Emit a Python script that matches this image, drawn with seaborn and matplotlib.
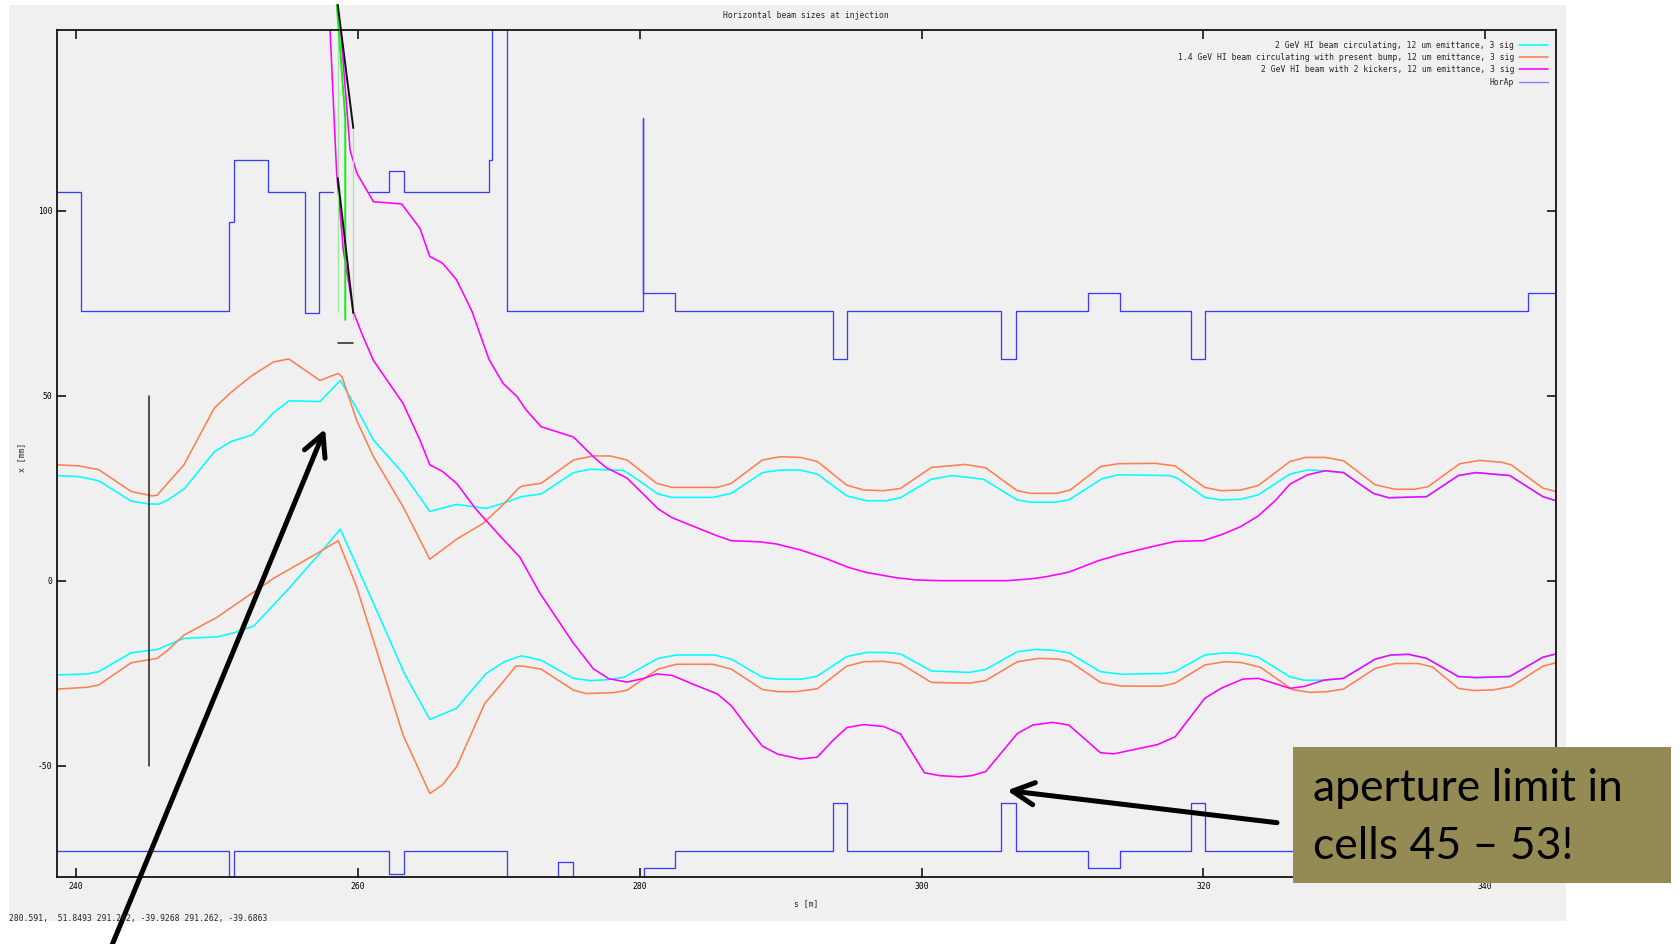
import matplotlib
matplotlib.use("Agg")
import matplotlib.pyplot as plt
from matplotlib.lines import Line2D
from matplotlib.patches import Rectangle
import pandas as pd
import seaborn as sns

TITLE = "Horizontal beam sizes at injection"
XLABEL = "s [m]"
YLABEL = "x [mm]"
SERIES = [
    "2 GeV HI beam circulating, 12 um emittance, 3 sig",
    "1.4 GeV HI beam circulating with present bump, 12 um emittance, 3 sig",
    "2 GeV HI beam with 2 kickers, 12 um emittance, 3 sig",
]
APERTURE = "HorAp"
COLORS = ["#00ffff", "#ff7f50", "#ff00ff"]
HORAP_COLOR = "#3c3cff"
BG = "#f0f0f0"
CURSOR_TEXT = "280.591,  51.8493 291.262, -39.9268 291.262, -39.6863"
NOTE_LINES = ["aperture limit in", "cells 45 \u2013 53!"]

X_TICKS = [240, 260, 280, 300, 320, 340]
Y_TICKS = [-50, 0, 50, 100]
S_RANGE = (238.67, 345.03)
X_RANGE = (-80.0, 148.8)

# beam envelopes (s [m], x [mm])
cyan_upper = [(238.67, 28.4), (240.2, 28.1), (241.6, 27.0), (243.9, 21.5), (245.2, 20.7), (245.9, 20.7),
              (246.5, 21.8), (247.7, 24.9), (249.8, 34.8), (251.0, 37.6), (252.5, 39.4), (254.0, 45.3),
              (255.1, 48.6), (257.3, 48.4), (258.75, 54.1), (259.9, 46.6), (261.1, 38.0), (263.2, 29.0),
              (265.1, 18.7), (267.0, 20.6), (269.1, 19.5), (270.3, 20.9), (271.6, 22.7), (273.0, 23.4),
              (275.3, 29.2), (276.5, 30.1), (278.8, 29.8), (279.2, 29.0), (281.3, 23.4), (282.3, 22.5),
              (285.2, 22.5), (286.5, 23.6), (288.7, 29.2), (290.0, 29.9), (291.4, 29.9), (292.6, 28.8),
              (294.7, 22.9), (296.1, 21.6), (297.5, 21.6), (298.5, 22.4), (300.7, 27.4), (302.15, 28.4),
              (304.4, 27.4), (306.8, 21.8), (307.8, 21.2), (309.45, 21.2), (310.45, 21.8), (312.8, 27.5),
              (313.95, 28.6), (317.6, 28.4), (318.15, 27.7), (320.1, 22.5), (321.25, 21.8), (322.65, 22.0),
              (323.9, 23.2), (326.15, 28.8), (327.4, 29.9), (328.55, 29.7), (329.95, 29.2), (332.05, 23.6),
              (333.15, 22.4), (335.85, 22.7), (338.1, 28.4), (339.35, 29.2), (341.75, 28.4), (344.1, 22.7),
              (345.03, 21.6)]
cyan_lower = [(238.67, -25.5), (240.8, -25.2), (241.6, -24.6), (243.9, -19.5), (245.75, -18.6), (247.65, -15.6),
              (250.0, -15.2), (251.2, -14.1), (252.6, -12.3), (255.1, -2.1), (257.3, 7.4), (258.75, 13.9),
              (261.1, -6.1), (263.3, -25.1), (265.1, -37.5), (267.0, -34.5), (269.1, -25.1), (270.4, -21.9),
              (271.6, -20.3), (273.0, -21.5), (275.3, -26.4), (276.5, -27.0), (277.6, -26.8), (278.9, -26.1),
              (281.3, -21.0), (282.6, -20.1), (285.3, -20.1), (286.5, -21.2), (288.7, -26.1), (289.7, -26.6),
              (291.5, -26.6), (292.6, -25.8), (294.7, -20.5), (296.1, -19.4), (297.5, -19.4), (298.5, -19.8),
              (300.7, -24.4), (303.4, -24.8), (304.55, -24.0), (306.8, -19.2), (308.05, -18.6), (309.3, -18.8),
              (310.45, -19.5), (312.7, -24.6), (314.2, -25.3), (317.15, -25.1), (318.0, -24.6), (320.1, -20.1),
              (321.5, -19.5), (322.65, -19.7), (323.9, -20.7), (326.15, -26.0), (327.15, -26.9), (328.4, -26.9),
              (329.95, -26.4), (332.2, -21.2), (333.3, -20.1), (334.55, -19.9), (335.85, -21.0), (338.1, -25.9),
              (339.35, -26.2), (341.75, -25.9), (344.1, -20.7), (345.03, -19.8)]
coral_upper = [(238.67, 31.3), (240.2, 31.0), (241.6, 30.0), (243.9, 24.1), (245.4, 22.9), (245.75, 23.1),
               (247.65, 31.3), (249.8, 46.6), (251.0, 50.9), (252.4, 55.2), (254.0, 59.1), (255.1, 59.9),
               (257.3, 54.1), (258.6, 56.0), (258.87, 55.1), (259.9, 43.4), (261.1, 33.5), (263.2, 20.0),
               (265.1, 5.8), (267.0, 11.2), (268.9, 15.5), (270.3, 20.5), (271.4, 25.0), (271.7, 25.6),
               (273.0, 26.3), (275.3, 32.6), (276.7, 33.7), (277.9, 33.7), (279.1, 32.6), (281.2, 26.3),
               (282.3, 25.2), (285.5, 25.2), (286.5, 26.3), (288.7, 32.6), (290.0, 33.5), (291.4, 33.3),
               (292.6, 32.2), (294.7, 25.8), (295.9, 24.5), (297.3, 24.3), (298.5, 24.9), (300.7, 30.6),
               (303.1, 31.4), (304.55, 30.5), (306.8, 24.3), (307.75, 23.6), (309.6, 23.6), (310.55, 24.5),
               (312.7, 30.8), (313.95, 31.6), (316.6, 31.7), (318.0, 31.0), (320.1, 25.2), (321.25, 24.3),
               (322.65, 24.5), (323.9, 25.7), (326.15, 32.2), (327.25, 33.3), (328.65, 33.3), (329.95, 32.4),
               (332.2, 25.9), (333.6, 24.7), (335.0, 24.7), (335.95, 25.4), (338.2, 31.6), (339.6, 32.5),
               (341.15, 32.0), (341.85, 31.3), (344.1, 25.0), (345.03, 24.1)]
coral_lower = [(238.67, -29.3), (240.8, -28.8), (241.6, -28.2), (243.9, -22.2), (245.75, -21.0), (246.5, -18.8),
               (247.65, -14.7), (250.0, -9.9), (251.45, -6.1), (254.0, 0.6), (257.3, 7.8), (258.6, 10.8),
               (259.9, -1.6), (263.2, -41.7), (265.1, -57.5), (266.0, -55.2), (267.0, -50.3), (269.0, -33.2),
               (270.4, -26.9), (271.2, -23.1), (271.7, -23.1), (273.0, -23.9), (275.3, -29.6), (276.2, -30.5),
               (278.1, -30.3), (279.1, -29.6), (281.3, -23.9), (282.6, -22.6), (285.2, -22.6), (286.5, -23.9),
               (288.7, -29.4), (289.8, -30.0), (291.1, -30.0), (292.6, -29.2), (294.7, -23.1), (295.9, -21.9),
               (297.3, -21.8), (298.5, -22.4), (300.7, -27.5), (303.4, -27.7), (304.55, -27.0), (306.8, -21.9),
               (308.35, -21.0), (309.75, -21.2), (310.55, -21.9), (312.7, -27.5), (314.2, -28.5), (317.05, -28.5),
               (318.0, -27.7), (320.1, -22.8), (321.5, -21.9), (322.65, -22.1), (324.05, -23.4), (326.3, -29.4),
               (327.55, -30.2), (328.8, -30.0), (329.95, -29.3), (332.2, -23.7), (333.6, -22.4), (335.25, -22.4),
               (336.25, -23.3), (338.1, -29.1), (339.2, -29.7), (340.6, -29.5), (341.85, -28.6), (344.1, -23.1),
               (345.03, -22.2)]
kicked_upper = [(258.55, 160.0), (259.44, 116.4), (259.92, 110.1), (261.1, 102.4), (263.1, 101.8), (264.4, 95.2),
                (265.1, 87.6), (266.0, 85.8), (267.0, 81.3), (268.1, 72.7), (269.3, 59.8), (270.3, 53.3),
                (271.3, 49.7), (271.9, 46.3), (273.0, 41.6), (275.3, 38.8), (276.7, 33.5), (277.6, 30.6),
                (279.1, 27.7), (280.3, 23.2), (281.3, 19.4), (282.3, 17.0), (283.6, 15.0), (285.5, 12.1),
                (286.5, 10.8), (288.5, 10.5), (289.7, 9.9), (291.4, 8.3), (293.2, 6.0), (294.8, 3.6),
                (296.1, 2.2), (298.2, 0.8), (299.6, 0.2), (301.3, 0.0), (306.1, 0.0), (307.8, 0.5),
                (308.9, 1.1), (310.45, 2.3), (312.55, 5.4), (314.2, 7.2), (316.6, 9.4), (318.0, 10.6),
                (320.0, 10.8), (321.4, 12.6), (322.65, 14.6), (323.9, 17.5), (325.15, 21.8), (326.15, 26.1),
                (327.4, 28.6), (328.65, 29.7), (329.95, 29.2), (332.05, 23.6), (333.15, 22.4), (335.85, 22.7),
                (338.1, 28.4), (339.35, 29.2), (341.75, 28.4), (344.1, 22.7), (345.03, 21.6)]
kicked_lower = [(257.88, 160.0), (258.02, 148.8), (258.25, 129.9), (258.49, 110.1), (258.96, 89.4), (259.67, 72.7),
                (260.27, 66.8), (261.1, 59.5), (263.2, 47.9), (264.4, 38.0), (265.1, 31.3), (266.0, 29.5),
                (267.0, 26.3), (268.4, 19.2), (270.1, 12.0), (271.5, 6.3), (272.9, -3.3), (275.2, -16.4),
                (276.7, -23.8), (277.8, -26.5), (279.1, -27.4), (280.3, -26.4), (281.2, -25.2), (282.3, -25.6),
                (283.6, -27.7), (285.5, -30.6), (286.5, -33.8), (287.6, -39.4), (288.7, -44.7), (289.8, -46.9),
                (291.4, -48.2), (292.6, -47.7), (293.7, -43.2), (294.7, -39.7), (295.9, -38.9), (297.3, -39.4),
                (298.5, -41.4), (300.2, -51.9), (301.3, -52.7), (302.7, -53.0), (303.55, -52.7), (304.55, -51.6),
                (306.8, -41.3), (307.9, -39.0), (309.3, -38.3), (310.45, -39.0), (312.7, -46.5), (313.65, -46.8),
                (316.75, -44.3), (318.0, -42.2), (320.1, -31.8), (321.25, -29.1), (322.8, -26.6), (323.9, -26.4),
                (326.15, -29.1), (327.15, -28.6), (328.55, -26.9), (329.95, -26.4), (332.2, -21.2), (333.3, -20.1),
                (334.55, -19.9), (335.85, -21.0), (338.1, -25.9), (339.35, -26.2), (341.75, -25.9), (344.1, -20.7),
                (345.03, -19.8)]

# horizontal aperture: element boundaries [m] and half-aperture [mm] between them
ap_upper_a_edges = [238.67, 240.32, 250.86, 251.23, 253.59, 256.24, 257.24, 258.25]
ap_upper_a_levels = [105, 73, 97, 113.7, 105, 72.4, 105]
ap_upper_b_edges = [260.75, 262.19, 263.24, 269.33, 269.48, 270.57, 280.23, 280.26, 282.51, 293.69, 294.68,
                    305.63, 306.69, 311.79, 314.07, 319.09, 320.15, 343.04, 345.03]
ap_upper_b_levels = [105, 110.8, 105, 113.7, 300, 73, 125, 77.7, 73, 60, 73, 60, 73, 77.7, 73, 60, 73, 77.7]
ap_lower_edges = [238.67, 250.86, 251.2, 262.19, 263.24, 270.57, 274.2, 275.25, 280.3, 282.51, 293.69, 294.68,
                  305.63, 306.69, 311.79, 314.07, 319.09, 320.15, 343.04, 345.03]
ap_lower_levels = [-73, -150, -73, -79.4, -73, -150, -76.1, -150, -77.7, -73, -60, -73, -60, -73, -77.7, -73,
                   -60, -73, -77.7]

# extra unlabelled traces
probe_line = [(245.2, -50.0), (245.2, 50.0)]
kicker_bar = [(258.57, 64.2), (259.62, 64.2)]
kick_track_a = [(258.57, 155.6), (259.67, 122.3)]
kick_track_b = [(258.57, 108.8), (259.67, 72.3)]
septum_a = [(258.6, 155.6), (258.6, 72.7)]
septum_b = [(258.5, 155.6), (259.1, 125.0), (259.1, 70.5)]
septum_c = [(259.68, 122.0), (259.68, 70.5)]


def steps(edges, levels):
    pts = []
    for i, lev in enumerate(levels):
        pts.append((edges[i], lev))
        pts.append((edges[i + 1], lev))
    return pts


sns.set_style("ticks")
plt.rcParams["axes.unicode_minus"] = False
MONO = "DejaVu Sans Mono"
SMALL = 5.8

curves = [
    (SERIES[0], "upper", cyan_upper), (SERIES[0], "lower", cyan_lower),
    (SERIES[1], "upper", coral_upper), (SERIES[1], "lower", coral_lower),
    (SERIES[2], "upper", kicked_upper), (SERIES[2], "lower", kicked_lower),
]
beam = pd.DataFrame([(name, f"{name}|{side}", s, x) for name, side, pts in curves for s, x in pts],
                    columns=["series", "branch", "s", "x"])

apertures = [("upper_a", steps(ap_upper_a_edges, ap_upper_a_levels)),
             ("upper_b", steps(ap_upper_b_edges, ap_upper_b_levels)),
             ("lower", steps(ap_lower_edges, ap_lower_levels))]
aperture = pd.DataFrame([(b, s, x) for b, pts in apertures for s, x in pts], columns=["branch", "s", "x"])

fig = plt.figure(figsize=(16.8, 9.44), dpi=100, facecolor="white")
fig.add_artist(Rectangle((9 / 1680, 1 - 921 / 944), (1566 - 9) / 1680, (921 - 5) / 944,
                         transform=fig.transFigure, facecolor=BG, edgecolor="none", zorder=-5))
ax = fig.add_axes([57.4 / 1680, 1 - 876.7 / 944, (1556 - 57.4) / 1680, (876.7 - 30) / 944])
ax.set_facecolor(BG)

sns.lineplot(data=beam, x="s", y="x", hue="series", hue_order=SERIES, units="branch", estimator=None,
             sort=False, palette=dict(zip(SERIES, COLORS)), lw=1.15, legend=False, ax=ax)
sns.lineplot(data=aperture, x="s", y="x", units="branch", estimator=None, sort=False,
             color=HORAP_COLOR, lw=0.95, legend=False, ax=ax)

def trace(pts, **kw):
    ax.plot([p[0] for p in pts], [p[1] for p in pts], **kw)

trace(probe_line, color="#222222", lw=1.1)
trace(kicker_bar, color="#222222", lw=1.1)
trace(septum_a, color="#9ee89e", lw=0.9, clip_on=False)
trace(septum_c, color="#9ee89e", lw=0.9, clip_on=False)
trace(septum_b, color="#11ee11", lw=1.4, clip_on=False)
trace(kick_track_a, color="#111111", lw=1.4, clip_on=False)
trace(kick_track_b, color="#111111", lw=1.4, clip_on=False)

ax.set_xlim(*S_RANGE)
ax.set_ylim(*X_RANGE)
ax.set_xticks(X_TICKS)
ax.set_yticks(Y_TICKS)
ax.set_xticklabels([str(t) for t in X_TICKS], family=MONO, fontsize=SMALL)
ax.set_yticklabels([str(t) for t in Y_TICKS], family=MONO, fontsize=SMALL)
ax.tick_params(direction="in", length=6.8, width=1.1, top=True, right=True, pad=3.5, colors="black")
for sp in ax.spines.values():
    sp.set_visible(True)
    sp.set_linewidth(1.2)
    sp.set_color("black")
ax.set_xlabel(XLABEL, family=MONO, fontsize=SMALL)
ax.set_ylabel(YLABEL, family=MONO, fontsize=SMALL)
ax.xaxis.set_label_coords(0.4995, -0.0263)
ax.yaxis.set_label_coords(-0.021, 0.4957)

handles = [Line2D([], [], color=c, lw=1.15) for c in COLORS] + [Line2D([], [], color="#8080ff", lw=1.0)]
ax.legend(handles, SERIES + [APERTURE], loc="upper right", bbox_to_anchor=(1548 / 1680, 1 - 40.5 / 944),
          bbox_transform=fig.transFigure, frameon=False, markerfirst=False, borderpad=0, borderaxespad=0,
          handlelength=3.6, handletextpad=0.6, labelspacing=0.42, prop={"family": MONO, "size": SMALL})

fig.text(806 / 1680, 1 - 15 / 944, TITLE, ha="center", va="center", family=MONO, fontsize=SMALL)
fig.text(9 / 1680, 1 - 918 / 944, CURSOR_TEXT, ha="left", va="center", family=MONO, fontsize=SMALL)

# callout arrows
arrow = dict(arrowstyle="->,head_length=0.78,head_width=0.4", lw=3.6, color="black",
             shrinkA=0, shrinkB=0, mutation_scale=20)
ax.annotate("", xy=(257.67, 41.0), xytext=(110.5 / 1680, -0.005), textcoords="figure fraction",
            arrowprops=arrow, annotation_clip=False)
ax.annotate("", xy=(306.07, -56.7), xytext=(1277 / 1680, 1 - 822.7 / 944), textcoords="figure fraction",
            arrowprops=arrow, annotation_clip=False)

fig.add_artist(Rectangle((1292.7 / 1680, 1 - 882.7 / 944), 378 / 1680, 136 / 944,
                         transform=fig.transFigure, facecolor="#948A54", edgecolor="none", zorder=10))
fig.text(1313 / 1680, 1 - 801 / 944, NOTE_LINES[0], ha="left", va="baseline", family="Lato",
         fontsize=32, color="black", zorder=11)
fig.text(1313 / 1680, 1 - 859 / 944, NOTE_LINES[1], ha="left", va="baseline", family="Lato",
         fontsize=32, color="black", zorder=11)

fig.savefig("out.png", dpi=100, facecolor="white")
